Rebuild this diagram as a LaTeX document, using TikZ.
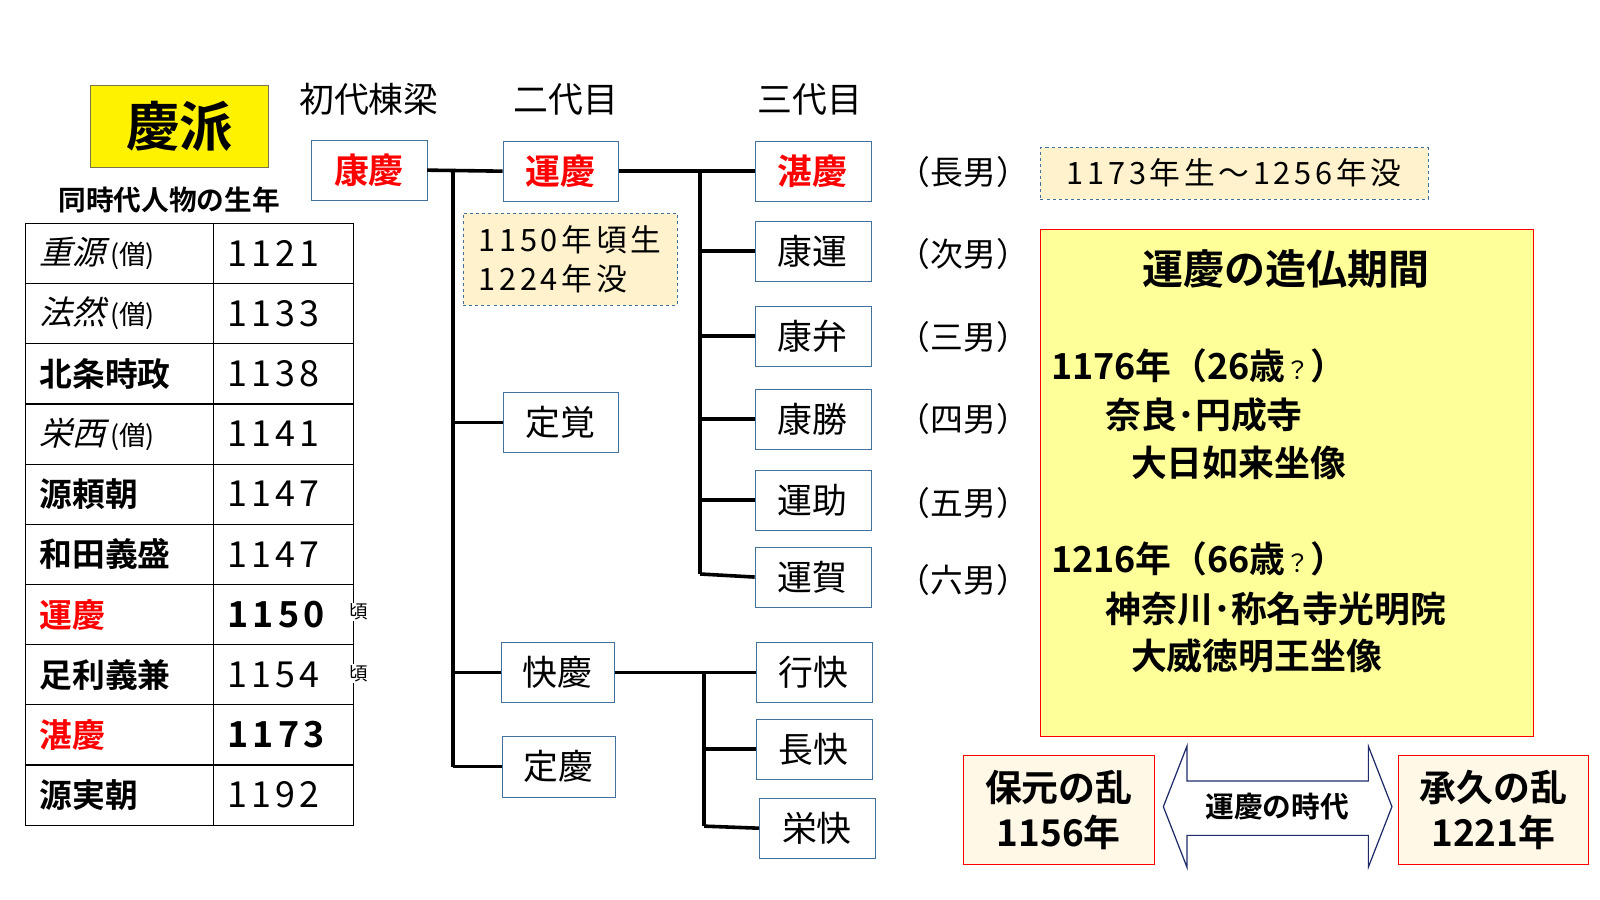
\documentclass[tikz,border=0pt]{standalone}
\usepackage{fontspec}
\setmainfont{Noto Sans CJK JP}[BoldFont={Noto Sans CJK JP Bold}]
\newfontfamily\slf{Noto Sans CJK JP}[FakeSlant=0.25]
\newfontfamily\wnum{Noto Sans CJK JP}[LetterSpace=12,BoldFont={Noto Sans CJK JP Bold}]
\definecolor{bx}{HTML}{41719C}
\definecolor{cream}{HTML}{FFF2CC}
\definecolor{lt}{HTML}{FFF8E7}
\definecolor{yel}{HTML}{FFFF99}
\definecolor{nav}{HTML}{1F2A6B}
\begin{document}
\begin{tikzpicture}[x=1pt,y=-1pt,
  nm/.style={draw=bx,fill=white,minimum width=113pt,minimum height=59pt,inner sep=0pt,font=\fontsize{34}{36}\selectfont},
  rd/.style={nm,text=red,font=\fontsize{34}{36}\selectfont\bfseries},
  ln/.style={line width=3.5pt},
  note/.style={draw=bx,dashed,fill=cream,inner sep=0pt,align=left,font=\wnum\fontsize{30}{38}\selectfont},
  hd/.style={font=\fontsize{34}{36}\selectfont},
  cell/.style={font=\fontsize{32}{34}\selectfont},
  numc/.style={font=\wnum\fontsize{35}{37}\selectfont},
  son/.style={font=\fontsize{32}{34}\selectfont}]
\useasboundingbox (0,0) rectangle (1561,878);
% title
\node[draw=black!60!yellow,fill=yellow,minimum width=174pt,minimum height=80pt,font=\fontsize{52}{54}\selectfont\bfseries] (ha) at (175,123) {慶派};
\node[hd] (h1) at (360,97) {初代棟梁};
\node[hd] (h2) at (552,97) {二代目};
\node[hd] (h3) at (790,97) {三代目};
\node[font=\fontsize{27}{29}\selectfont\bfseries] (tt) at (165,195) {同時代人物の生年};
% table
\draw[line width=1.2pt] (25,218) rectangle (345,805);
\draw[line width=1.2pt] (208,218) -- (208,805);
\foreach \i in {1,...,9}{\draw[line width=1.2pt] (25,218+58.7*\i) -- (345,218+58.7*\i);}
\def\rowy#1{247.35+58.7*#1}
\foreach \n/\a/\y in {0/{\slf 重源}\hspace{5pt}{\fontsize{26}{28}\selectfont(僧)}/1121,1/{\slf 法然}\hspace{5pt}{\fontsize{26}{28}\selectfont(僧)}/1133,2/\bfseries 北条時政/1138,3/{\slf 栄西}\hspace{5pt}{\fontsize{26}{28}\selectfont(僧)}/1141,4/\bfseries 源頼朝/1147,5/\bfseries 和田義盛/1147,6/\bfseries\color{red}運慶/\bfseries 1150,7/\bfseries 足利義兼/1154,8/\bfseries\color{red}湛慶/\bfseries 1173,9/\bfseries 源実朝/1192}{
  \node[cell,anchor=west] (a\n) at (35,{\rowy{\n}}) {\a};
  \node[numc,anchor=west] (b\n) at (218,{\rowy{\n}}) {\y};
}
\node[font=\fontsize{18}{20}\selectfont,fill=white,inner sep=1pt] (k1) at (350,597) {頃};
\node[font=\fontsize{18}{20}\selectfont,fill=white,inner sep=1pt] (k2) at (350,657) {頃};
% generation 1
\node[rd] (kk) at (360,166) {康慶};
\node[rd] (uk) at (547,167) {運慶};
\node[note,minimum width=209pt,minimum height=90pt] (n1) at (556,253) {1150年頃生\\1224年没};
\node[nm] (jk) at (547,412) {定覚};
\node[nm,minimum width=111pt] (kai) at (544,656) {快慶};
\node[nm,minimum width=111pt] (jok) at (545,748) {定慶};
\coordinate (t1) at (442,165);
\coordinate (t2) at (442,748);
\draw[ln] (kk.east) -- (uk.west);
\draw[ln] (t1) -- (t2);
\draw[ln] (t1 |- jk.west) -- (jk.west);
\draw[ln] (t1 |- kai.west) -- (kai.west);
\draw[ln] (t2) -- (jok.west);
% generation 3
\node[rd] (tk) at (793,167) {湛慶};
\node[nm] (ku) at (793,245) {康運};
\node[nm] (kb) at (793,328) {康弁};
\node[nm] (ks) at (793,409) {康勝};
\node[nm] (uj) at (793,488) {運助};
\node[nm] (ug) at (793,563) {運賀};
\coordinate (u1) at (683,166);
\coordinate (u2) at (683,560);
\draw[ln] (uk.east) -- (tk.west);
\draw[ln] (u1) -- (u2);
\foreach \b in {ku,kb,ks,uj}{\draw[ln] (u1 |- \b.west) -- (\b.west);}
\draw[ln] (u2) -- (ug.west);
\node[nm] (gk) at (794,656) {行快};
\node[nm] (ck) at (794,731) {長快};
\node[nm] (ek) at (797,808) {栄快};
\coordinate (v1) at (687,656);
\coordinate (v2) at (687,806);
\draw[ln] (kai.east) -- (gk.west);
\draw[ln] (v1) -- (v2);
\draw[ln] (v1 |- ck.west) -- (ck.west);
\draw[ln] (v2) -- (ek.west);
% sons
\node[son] (l1) at (940,168) {（長男）};
\node[son] (l2) at (940,248) {（次男）};
\node[son] (l3) at (940,329) {（三男）};
\node[son] (l4) at (940,409) {（四男）};
\node[son] (l5) at (940,491) {（五男）};
\node[son] (l6) at (940,566) {（六男）};
\node[note,minimum width=378pt,minimum height=50pt,align=center] (n2) at (1204,169) {1173年生～1256年没};
% period box
\node[draw=red,fill=yel,minimum width=481pt,minimum height=494pt] (pb) at (1255.5,471) {};
\node[font=\fontsize{40}{42}\selectfont\bfseries] (pt) at (1255,262) {運慶の造仏期間};
\begin{scope}[every node/.style={anchor=west,font=\fontsize{35}{37}\selectfont\bfseries}]
\node (p1) at (1022,357) {1176年（26歳{\fontsize{24}{26}\selectfont\mdseries ？}）};
\node (p2) at (1075,405) {奈良･円成寺};
\node (p3) at (1100,452) {大日如来坐像};
\node (p4) at (1022,545) {1216年（66歳{\fontsize{24}{26}\selectfont\mdseries ？}）};
\node (p5) at (1075,594) {神奈川･称名寺光明院};
\node (p6) at (1100,640) {大威徳明王坐像};
\end{scope}
% bottom
\node[draw=red,fill=lt,minimum width=186pt,minimum height=106pt,align=center,font=\fontsize{36}{44}\selectfont\bfseries] (hg) at (1033,790) {保元の乱\\1156年};
\node[draw=red,fill=lt,minimum width=185pt,minimum height=106pt,align=center,font=\fontsize{36}{44}\selectfont\bfseries] (jq) at (1457,790) {承久の乱\\1221年};
\draw[nav,fill=white,line width=1.2pt] (1135,787) -- (1158,728) -- (1158,762) -- (1335,762) -- (1335,728) -- (1358,787) -- (1335,846) -- (1335,815) -- (1158,815) -- (1158,846) -- cycle;
\node[font=\fontsize{28}{30}\selectfont\bfseries] (dt) at (1246,787) {運慶の時代};
\end{tikzpicture}
\end{document}
